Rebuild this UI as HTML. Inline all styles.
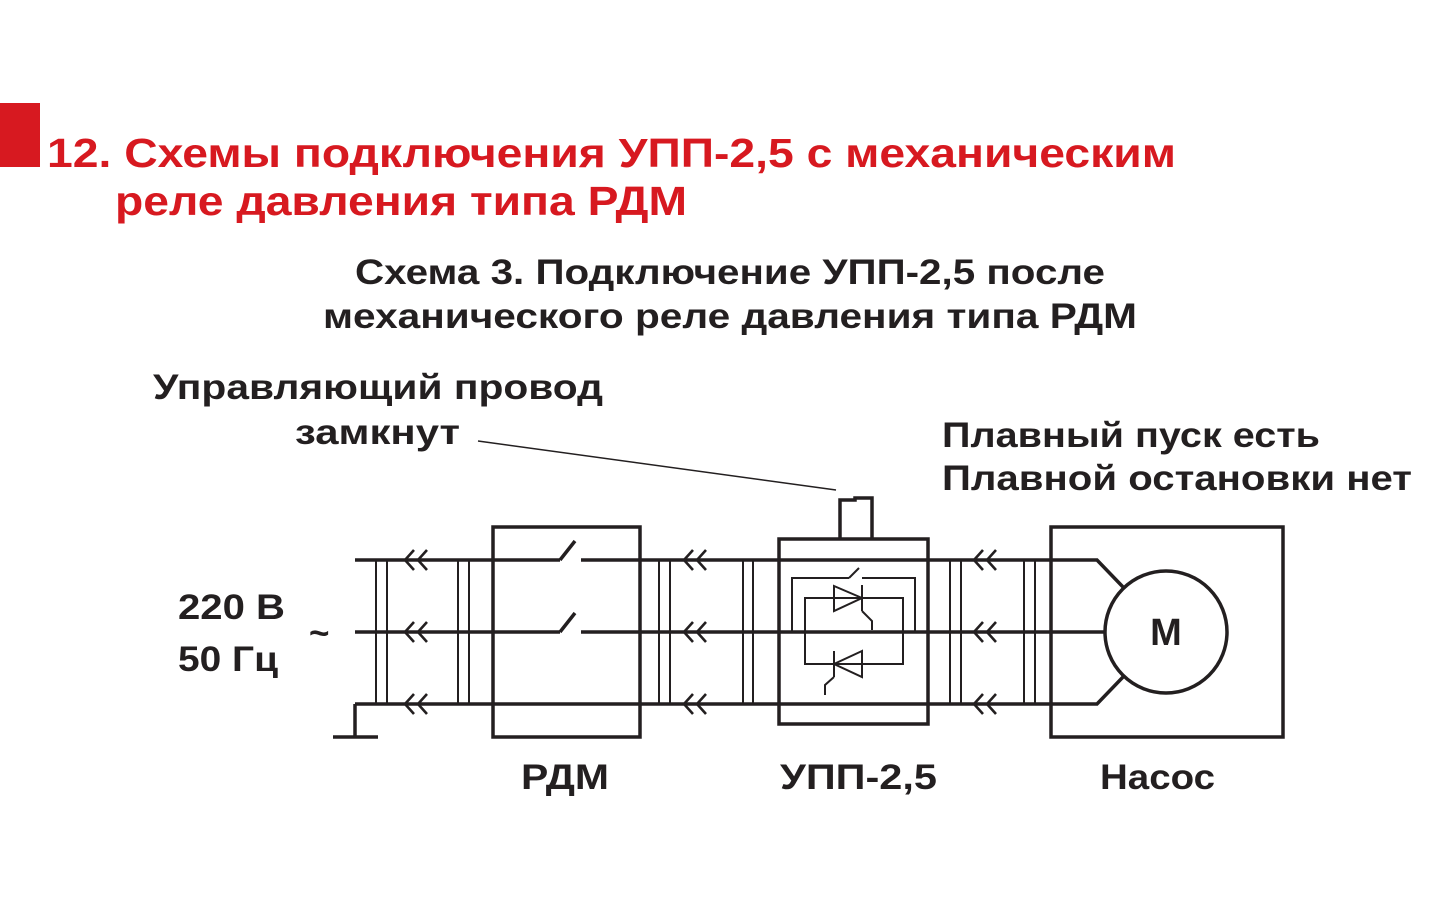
<!DOCTYPE html>
<html><head><meta charset="utf-8"><style>
html,body{margin:0;padding:0;background:#fff;}
svg{display:block;}
text{font-family:"Liberation Sans","DejaVu Sans",sans-serif;font-weight:bold;}
</style></head><body>
<svg width="1440" height="900" viewBox="0 0 1440 900" xmlns="http://www.w3.org/2000/svg">
<rect x="0" y="103" width="40" height="64" fill="#d71920"/>
<g fill="#d71920" font-size="41">
<text x="47" y="167" textLength="1129" lengthAdjust="spacingAndGlyphs">12. Схемы подключения УПП-2,5 с механическим</text>
<text x="115" y="215" textLength="572" lengthAdjust="spacingAndGlyphs">реле давления типа РДМ</text>
</g>
<g fill="#231f20" font-size="35">
<text x="355" y="284" textLength="750" lengthAdjust="spacingAndGlyphs">Схема 3. Подключение УПП-2,5 после</text>
<text x="323" y="328" textLength="814" lengthAdjust="spacingAndGlyphs">механического реле давления типа РДМ</text>
<text x="153" y="399" textLength="450" lengthAdjust="spacingAndGlyphs">Управляющий провод</text>
<text x="295" y="444" textLength="165" lengthAdjust="spacingAndGlyphs">замкнут</text>
<text x="942" y="447" textLength="378" lengthAdjust="spacingAndGlyphs">Плавный пуск есть</text>
<text x="942" y="490" textLength="470" lengthAdjust="spacingAndGlyphs">Плавной остановки нет</text>
<text x="178" y="619" textLength="107" lengthAdjust="spacingAndGlyphs">220 В</text>
<text x="178" y="671" textLength="100" lengthAdjust="spacingAndGlyphs">50 Гц</text>
<text x="309" y="645">~</text>
<text x="521" y="789" textLength="88" lengthAdjust="spacingAndGlyphs">РДМ</text>
<text x="780" y="789" textLength="157" lengthAdjust="spacingAndGlyphs">УПП-2,5</text>
<text x="1100" y="789" textLength="115" lengthAdjust="spacingAndGlyphs">Насос</text>
<text x="1166" y="645" text-anchor="middle" font-size="38">M</text>
</g>
<g stroke="#231f20" fill="none" stroke-width="1.5">
<line x1="478" y1="441" x2="836" y2="490"/>
</g>
<g stroke="#231f20" fill="none" stroke-width="3.5">
<path d="M355 560H560 M581 560H1097 L1123 587"/>
<path d="M355 632H560 M581 632H1106"/>
<path d="M355 704H1097 L1123 677"/>
<path d="M560 560L575 541 M560 632L575 613"/>
<path d="M355 704V737 M333 737H378"/>
<rect x="493" y="527" width="147" height="210"/>
<rect x="779" y="539" width="149" height="185"/>
<path d="M840 539V500H855V498H872V539"/>
<rect x="1051" y="527" width="232" height="210"/>
<circle cx="1166" cy="632" r="61"/>
</g>
<g stroke="#231f20" fill="none" stroke-width="2">
<path d="M376 560V704 M387 560V704 M458 560V704 M469 560V704 M659 560V704 M670 560V704 M743 560V704 M753 560V704 M950 560V704 M961 560V704 M1024 560V704 M1035 560V704"/>
<path d="M805 632V598H903V632 M805 632V664H903V632"/>
<path d="M792 632V578H849 M849 578L859 568 M862 578H915V632"/>
<path d="M834 586L862 598L834 611Z M862 585V611 M862 611L872 621V630"/>
<path d="M862 651L834 664L862 677Z M834 651V677 M834 677L825 685V695"/>
</g>
<g stroke="#231f20" fill="none" stroke-width="2.6">
<path d="M414 550L405 560L414 570 M427 550L418 560L427 570"/>
<path d="M414 622L405 632L414 642 M427 622L418 632L427 642"/>
<path d="M414 694L405 704L414 714 M427 694L418 704L427 714"/>
<path d="M693 550L684 560L693 570 M706 550L697 560L706 570"/>
<path d="M693 622L684 632L693 642 M706 622L697 632L706 642"/>
<path d="M693 694L684 704L693 714 M706 694L697 704L706 714"/>
<path d="M983 550L974 560L983 570 M996 550L987 560L996 570"/>
<path d="M983 622L974 632L983 642 M996 622L987 632L996 642"/>
<path d="M983 694L974 704L983 714 M996 694L987 704L996 714"/>
</g>
</svg>
</body></html>
